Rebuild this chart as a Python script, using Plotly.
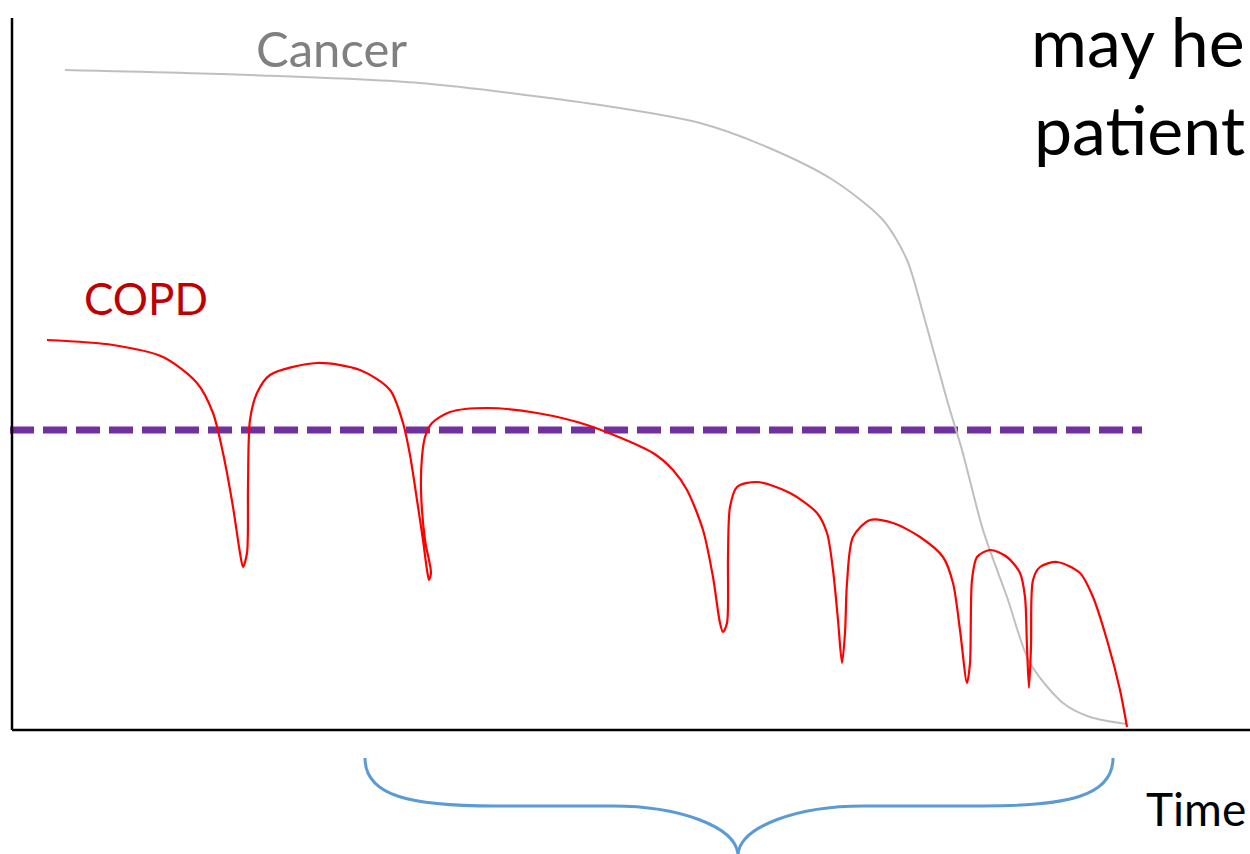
import plotly.graph_objects as go

# Illness trajectory curves (drawing coordinates: x to the right, y downward)
cancer_x = [65, 250, 420, 600, 700, 767, 833, 883, 907, 923, 947, 962, 983, 1007, 1030, 1063, 1090, 1127]
cancer_y = [70, 75, 83, 105, 123, 147, 180, 220, 260, 313, 400, 450, 530, 597, 663, 703, 717, 724]

copd_x = [47, 113, 163, 197, 213, 223, 233, 240, 243, 247, 248, 250, 257, 270, 317, 360, 390,
          403, 410, 417, 423, 427, 429, 431, 425, 421, 422, 425, 432, 450, 487, 537, 587, 653,
          673, 687, 703, 713, 720, 723, 727, 728, 730, 737, 757, 790, 817, 827, 833, 838, 842,
          845, 847, 853, 870, 893, 920, 943, 953, 960, 967, 970, 972, 977, 990, 1007, 1020,
          1025, 1027, 1029, 1031, 1033, 1040, 1057, 1080, 1093, 1107, 1120, 1127]
copd_y = [340, 345, 357, 383, 413, 453, 507, 553, 567, 553, 487, 420, 393, 375, 363, 370, 390,
          423, 455, 500, 540, 570, 580, 573, 540, 490, 457, 437, 423, 412, 408, 413, 425, 453,
          470, 490, 530, 577, 623, 632, 623, 557, 507, 487, 482, 493, 513, 533, 570, 620, 663,
          633, 583, 537, 520, 523, 537, 557, 583, 630, 683, 663, 580, 557, 550, 557, 573,
          597, 647, 688, 647, 580, 567, 562, 573, 597, 640, 690, 727]

threshold_x = [10, 1142]
threshold_y = [430, 430]

# axes frame
axis_x0, axis_y0, axis_top, axis_right = 12, 730, 18, 1250

# brace control points
brace_left, brace_right, brace_top, brace_mid, brace_tip_x, brace_tip_y = 365, 1113, 758, 806, 738, 854

fig = go.Figure()
fig.add_trace(go.Scatter(x=threshold_x, y=threshold_y, mode="lines",
                         line=dict(color="#7030A0", width=7, dash="24px,9px"),
                         hoverinfo="skip", showlegend=False))
fig.add_trace(go.Scatter(x=cancer_x, y=cancer_y, mode="lines",
                         line=dict(color="#BFBFBF", width=2, shape="spline", smoothing=0.8),
                         hoverinfo="skip", showlegend=False))
fig.add_trace(go.Scatter(x=copd_x, y=copd_y, mode="lines",
                         line=dict(color="#FF0000", width=2.2, shape="spline", smoothing=0.8),
                         hoverinfo="skip", showlegend=False))

shapes = [
    dict(type="line", x0=axis_x0, x1=axis_x0, y0=axis_top, y1=axis_y0,
         line=dict(color="black", width=2.5), xref="x", yref="y"),
    dict(type="line", x0=axis_x0, x1=axis_right, y0=axis_y0, y1=axis_y0,
         line=dict(color="black", width=2.5), xref="x", yref="y"),
]
bl, br, bt, bm, tx, ty = brace_left, brace_right, brace_top, brace_mid, brace_tip_x, brace_tip_y
path = (f"M {bl},{bt} C {bl},{bt+38} {bl+45},{bm} {bl+130},{bm} L {tx-125},{bm} "
        f"C {tx-60},{bm} {tx-3},{bm+20} {tx},{ty} "
        f"C {tx+3},{bm+20} {tx+60},{bm} {tx+125},{bm} L {br-130},{bm} "
        f"C {br-45},{bm} {br},{bt+38} {br},{bt}")
shapes.append(dict(type="path", path=path, line=dict(color="#5B9BD5", width=3),
                   xref="x", yref="y"))

font = "Lato, 'Open Sans', sans-serif"
annotations = [
    dict(x=331, y=48, text="Cancer", font=dict(family=font, size=49, color="#808080")),
    dict(x=146, y=298, text="COPD", font=dict(family=font, size=44, color="#C00000")),
    dict(x=1247, y=40, text="may he", xanchor="right", font=dict(family=font, size=68, color="black")),
    dict(x=1247, y=128, text="patient", xanchor="right", font=dict(family=font, size=68, color="black")),
    dict(x=1248, y=808, text="Time", xanchor="right", font=dict(family=font, size=46, color="black")),
]
for a in annotations:
    a.update(xref="x", yref="y", showarrow=False)

fig.update_layout(
    width=1250, height=854,
    margin=dict(l=0, r=0, t=0, b=0),
    paper_bgcolor="white", plot_bgcolor="white",
    xaxis=dict(range=[0, 1250], visible=False, fixedrange=True),
    yaxis=dict(range=[854, 0], visible=False, fixedrange=True),
    shapes=shapes, annotations=annotations,
)
# remove the default page margin so the figure fills the window exactly
fig.write_html("out.html", config={"displayModeBar": False},
               post_script="document.body.style.margin='0';document.body.style.overflow='hidden';")
